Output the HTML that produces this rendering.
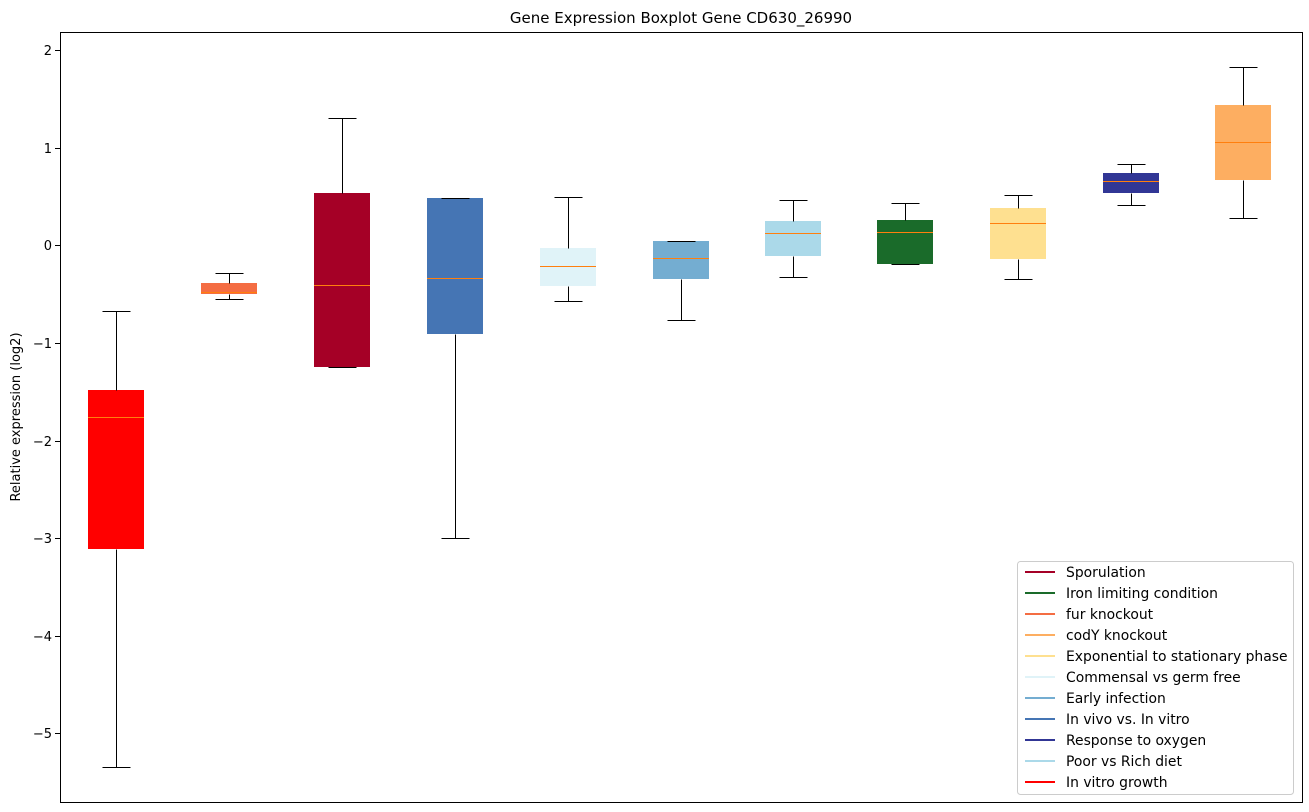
<!DOCTYPE html>
<html><head><meta charset="utf-8"><style>body{margin:0;background:#fff}svg{display:block}text{font-family:"DejaVu Sans","Liberation Sans",sans-serif;fill:#000}</style></head><body>
<svg width="1309" height="812" viewBox="0 0 1309 812" xmlns="http://www.w3.org/2000/svg">
<text x="681" y="23" font-size="15" text-anchor="middle">Gene Expression Boxplot Gene CD630_26990</text>
<g>
<rect x="88" y="390" width="56" height="159" fill="#ff0000"/>
<rect x="201" y="283" width="56" height="11" fill="#f46d43"/>
<rect x="314" y="193" width="56" height="174" fill="#a50026"/>
<rect x="427" y="198" width="56" height="136" fill="#4575b4"/>
<rect x="540" y="248" width="56" height="38" fill="#e0f3f8"/>
<rect x="653" y="241" width="56" height="38" fill="#74add1"/>
<rect x="765" y="221" width="56" height="35" fill="#abd9e9"/>
<rect x="877" y="220" width="56" height="44" fill="#1a6b2a"/>
<rect x="990" y="208" width="56" height="51" fill="#fee090"/>
<rect x="1103" y="173" width="56" height="20" fill="#313695"/>
<rect x="1215" y="105" width="56" height="75" fill="#fdae61"/>
</g>
<g stroke="#000" stroke-width="1" fill="none" transform="translate(0.5 0.5)">
<path d="M116 311V390M116 549V767M102 311H130M102 767H130"/>
<path d="M229 273V283M229 294V299M215 273H243M215 299H243"/>
<path d="M342 118V193M328 118H356M328 367H356"/>
<path d="M455 334V538M441 538H469M441 198H469"/>
<path d="M568 197V248M568 286V301M554 197H582M554 301H582"/>
<path d="M681 279V320M667 241H695M667 320H695"/>
<path d="M793 200V221M793 256V277M779 200H807M779 277H807"/>
<path d="M905 203V220M891 203H919M891 264H919"/>
<path d="M1018 195V208M1018 259V279M1004 195H1032M1004 279H1032"/>
<path d="M1131 164V173M1131 193V205M1117 164H1145M1117 205H1145"/>
<path d="M1243 67V105M1243 180V218M1229 67H1257M1229 218H1257"/>
</g>
<g stroke="#ff7f0e" stroke-width="1" transform="translate(0 0.5)">
<path d="M88 417H144M201 292H257M314 285H370M427 278H483M540 266H596M653 258H709M765 233H821M877 232H933M990 223H1046M1103 181H1159M1215 142H1271"/>
</g>
<rect x="60.5" y="32.5" width="1242" height="770" fill="none" stroke="#000"/>
<g font-size="13" text-anchor="end">
<path d="M55 50.5H60M55 148.5H60M55 245.5H60M55 343.5H60M55 441.5H60M55 538.5H60M55 636.5H60M55 733.5H60" stroke="#000"/>
<text x="52" y="55">2</text><text x="52" y="153">1</text><text x="52" y="250">0</text>
<text x="52" y="348">−1</text><text x="52" y="446">−2</text><text x="52" y="543">−3</text>
<text x="52" y="641">−4</text><text x="52" y="738">−5</text>
</g>
<text transform="translate(20 417) rotate(-90)" font-size="13" text-anchor="middle">Relative expression (log2)</text>
<rect x="1017.5" y="561.5" width="276" height="233" rx="3" fill="#fff" stroke="#ccc"/>
<g stroke-width="2">
<path d="M1025 572H1055" stroke="#a50026"/><path d="M1025 593H1055" stroke="#1a6b2a"/>
<path d="M1025 614H1055" stroke="#f46d43"/><path d="M1025 635H1055" stroke="#fdae61"/>
<path d="M1025 656H1055" stroke="#fee090"/><path d="M1025 677H1055" stroke="#e0f3f8"/>
<path d="M1025 698H1055" stroke="#74add1"/><path d="M1025 719H1055" stroke="#4575b4"/>
<path d="M1025 740H1055" stroke="#313695"/><path d="M1025 761H1055" stroke="#abd9e9"/>
<path d="M1025 782H1055" stroke="#ff0000"/>
</g>
<g font-size="13.9">
<text x="1066" y="577">Sporulation</text><text x="1066" y="598">Iron limiting condition</text>
<text x="1066" y="619">fur knockout</text><text x="1066" y="640">codY knockout</text>
<text x="1066" y="661">Exponential to stationary phase</text><text x="1066" y="682">Commensal vs germ free</text>
<text x="1066" y="703">Early infection</text><text x="1066" y="724">In vivo vs. In vitro</text>
<text x="1066" y="745">Response to oxygen</text><text x="1066" y="766">Poor vs Rich diet</text>
<text x="1066" y="787">In vitro growth</text>
</g>
</svg>
</body></html>
